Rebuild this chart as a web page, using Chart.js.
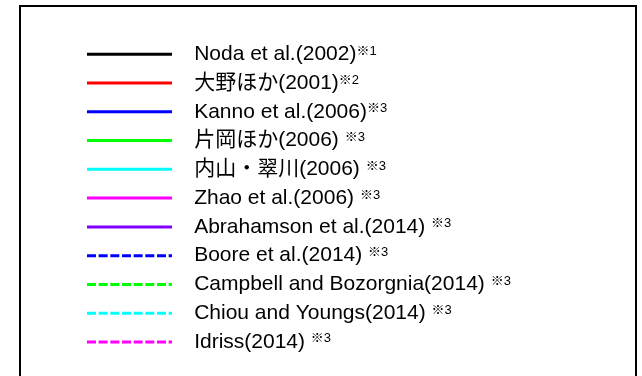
<!DOCTYPE html>
<html>
<head>
<meta charset="utf-8">
<style>
  html, body { margin: 0; padding: 0; background: #fff; }
  #wrap { width: 642px; height: 376px; }
</style>
<script src="https://cdn.jsdelivr.net/npm/chart.js@4.4.1/dist/chart.umd.min.js"></script>
</head>
<body>
<div id="wrap"><canvas id="myChart" width="642" height="376"></canvas></div>
<script>
// legend entries, top to bottom
const names = [
  'Noda et al.(2002)',
  '大野ほか(2001)',
  'Kanno et al.(2006)',
  '片岡ほか(2006) ',
  '内山・翠川(2006) ',
  'Zhao et al.(2006) ',
  'Abrahamson et al.(2014) ',
  'Boore et al.(2014) ',
  'Campbell and Bozorgnia(2014) ',
  'Chiou and Youngs(2014) ',
  'Idriss(2014) '
];
const notes = ['※1', '※2', '※3', '※3', '※3', '※3', '※3', '※3', '※3', '※3', '※3'];
const colors = ['#000000', '#ff0000', '#0000ff', '#00ff00', '#00ffff', '#ff00ff', '#8000ff', '#0000ff', '#00ff00', '#00ffff', '#ff00ff'];
const dashed = [false, false, false, false, false, false, false, true, true, true, true];

const fontFamily = "'Liberation Sans', 'Noto Sans CJK JP', sans-serif";
const fontSize = 21;
const labelPad = 7.77;
const lineLen = 85;

let frame = {
  id: 'frame',
  beforeDraw: chart => {
    let ctx = chart.ctx;
    ctx.save();
    ctx.strokeStyle = '#000';
    ctx.lineWidth = 2;
    ctx.strokeRect(20, 6, 616, 420);
    ctx.restore();
  }
};

// small raised ※ notes after each legend text
let superscripts = {
  id: 'superscripts',
  afterDraw: chart => {
    let lg = chart.legend;
    let ctx = chart.ctx;
    ctx.save();
    lg.legendItems.forEach((item, i) => {
      let hb = lg.legendHitBoxes[i];
      ctx.font = `${fontSize}px ${fontFamily}`;
      let x = hb.left + lineLen + fontSize / 2 + ctx.measureText(item.text).width;
      let y = hb.top + fontSize / 2 + 0.5;
      ctx.font = `13px 'Liberation Sans', 'Noto Sans CJK JP', sans-serif`;
      ctx.fillStyle = '#000';
      ctx.textBaseline = 'alphabetic';
      ctx.textAlign = 'left';
      ctx.fillText(notes[i], x, y);
    });
    ctx.restore();
  }
};

let draw = () => {
  let ctx = document.getElementById('myChart').getContext('2d');
  let myChart = new Chart(ctx, {
    type: 'line',
    data: {
      labels: [],
      datasets: names.map((name, i) => ({
        label: name,
        data: [],
        borderColor: colors[i],
        backgroundColor: colors[i],
        borderWidth: 3,
        borderDash: dashed[i] ? [9, 2.67] : [],
        borderDashOffset: 0
      }))
    },
    options: {
      responsive: false,
      animation: false,
      layout: { padding: { left: 79.2, top: 36, right: 0, bottom: 0 } },
      scales: {
        x: { display: false },
        y: { display: false }
      },
      plugins: {
        tooltip: { enabled: false },
        legend: {
          position: 'left',
          align: 'start',
          maxWidth: 600,
          labels: {
            usePointStyle: true,
            pointStyle: 'line',
            pointStyleWidth: lineLen,
            padding: labelPad,
            color: '#000',
            font: { family: fontFamily, size: fontSize },
            generateLabels: chart => chart.data.datasets.map((ds, i) => ({
              text: '  ' + ds.label,
              fillStyle: ds.borderColor,
              strokeStyle: ds.borderColor,
              lineWidth: ds.borderWidth,
              lineDash: ds.borderDash,
              lineDashOffset: ds.borderDashOffset,
              lineCap: 'butt',
              pointStyle: 'line',
              fontColor: '#000',
              hidden: false,
              datasetIndex: i
            }))
          }
        }
      }
    },
    plugins: [frame, superscripts]
  });
};

document.fonts.ready.then(draw, draw);
</script>
</body>
</html>
